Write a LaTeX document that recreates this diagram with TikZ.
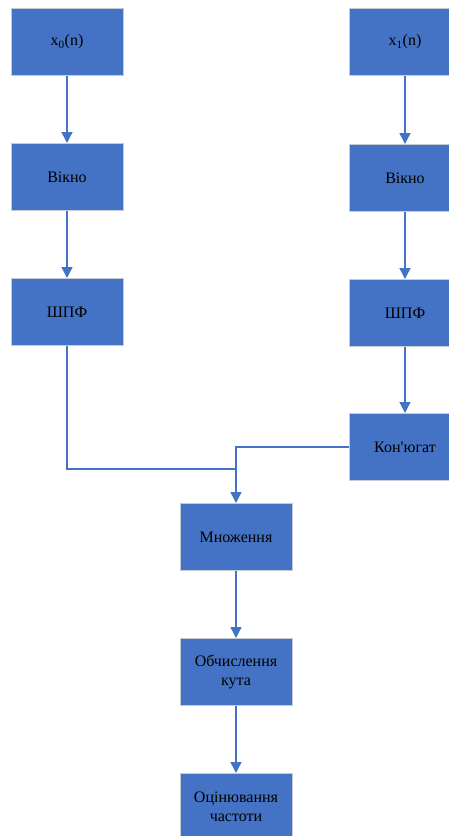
\documentclass[tikz,border=0pt]{standalone}
\usepackage{fontspec}
\setmainfont{Liberation Serif}
\usetikzlibrary{arrows.meta}
\definecolor{boxblue}{HTML}{4472C4}
\definecolor{boxedge}{HTML}{C5CCD8}
\begin{document}
\begin{tikzpicture}[x=1pt,y=-1pt,
  blk/.style={rectangle,fill=boxblue,draw=boxedge,line width=1pt,
    minimum width=112pt,minimum height=67pt,inner sep=0pt,align=center,
    font=\fontsize{16}{19}\selectfont,text=black},
  conn/.style={draw=boxblue,line width=1.4pt},
  arr/.style={conn,-{Triangle[width=11pt,length=11pt]}}]
\useasboundingbox (0,0) rectangle (449,836);
\clip (0,0) rectangle (449,836);
\node[blk] (a1) at (67,42) {x\textsubscript{0}(n)};
\node[blk] (a2) at (67,177) {Вікно};
\node[blk] (a3) at (67,312) {ШПФ};
\node[blk] (b1) at (405,42) {x\textsubscript{1}(n)};
\node[blk] (b2) at (405,178) {Вікно};
\node[blk] (b3) at (405,313) {ШПФ};
\node[blk] (b4) at (405,447) {Кон\textquotesingle югат};
\node[blk] (m1) at (236,537) {Множення};
\node[blk] (m2) at (236,672) {Обчислення\\кута};
\node[blk] (m3) at (236,807) {Оцінювання\\частоти};
\coordinate (j1) at (236,469);
\draw[arr] (a1) -- (a2);
\draw[arr] (a2) -- (a3);
\draw[arr] (b1) -- (b2);
\draw[arr] (b2) -- (b3);
\draw[arr] (b3) -- (b4);
\draw[conn] (a3.south) |- (j1);
\draw[arr] (b4.west) -| (m1.north);
\draw[arr] (m1) -- (m2);
\draw[arr] (m2) -- (m3);
\end{tikzpicture}
\end{document}
